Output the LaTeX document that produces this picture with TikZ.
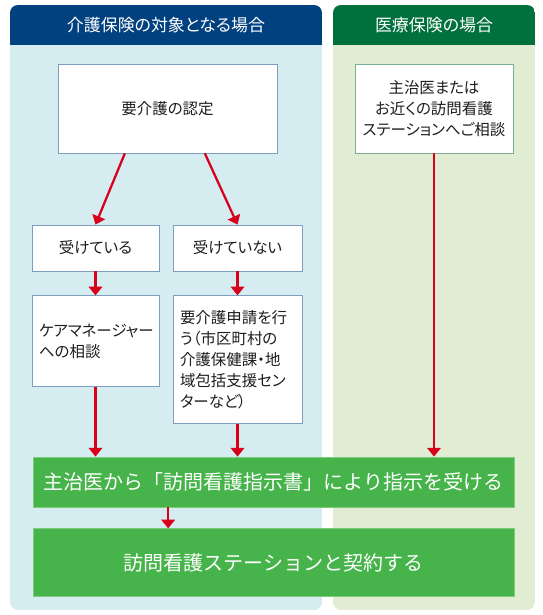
\documentclass[tikz,border=0pt]{standalone}
\usepackage{fontspec}
\setmainfont{Noto Sans CJK JP}[RawFeature=+palt]
\newfontfamily\stepfont{Noto Sans CJK JP}
\usepackage{xcolor}
\usetikzlibrary{arrows.meta,positioning}

\definecolor{kaigoHead}{RGB}{2,65,128}
\definecolor{kaigoBody}{RGB}{213,236,241}
\definecolor{iryoHead}{RGB}{0,112,60}
\definecolor{iryoBody}{RGB}{225,237,210}
\definecolor{boxBlue}{RGB}{126,158,192}
\definecolor{boxGreen}{RGB}{123,175,146}
\definecolor{stepGreen}{RGB}{70,180,74}
\definecolor{stepEdge}{RGB}{125,205,125}
\definecolor{arrowRed}{RGB}{217,0,27}
\definecolor{ink}{RGB}{30,30,30}

\begin{document}
\begin{tikzpicture}[x=0.75pt,y=-0.75pt,
	->,>={Triangle[width=10pt,length=6.5pt]},
	head/.style={text=white,font=\fontsize{12.7pt}{15pt}\selectfont,inner sep=0pt},
	box/.style={draw=boxBlue,fill=white,text=ink,line width=0.6pt,
		font=\fontsize{11.6pt}{15.8pt}\selectfont,align=center},
	leftbox/.style={box,align=left,inner xsep=5.25pt},
	stepbox/.style={draw=stepEdge,fill=stepGreen,text=white,line width=0.6pt,
		font=\stepfont\fontsize{15pt}{18pt}\selectfont,minimum width=360.75pt},
	link/.style={draw=arrowRed,line width=1.7pt}]
	\useasboundingbox (0,0) rectangle (543,615);

	% panels
	\begin{scope}
		\clip[rounded corners=6pt] (10,5) rectangle (322,610);
		\fill[kaigoBody] (10,5) rectangle (322,610);
		\fill[kaigoHead] (10,5) rectangle (322,45);
	\end{scope}
	\begin{scope}
		\clip[rounded corners=6pt] (333,5) rectangle (535,610);
		\fill[iryoBody] (333,5) rectangle (535,610);
		\fill[iryoHead] (333,5) rectangle (535,45);
	\end{scope}
	\node[head] (kaigoTitle) at (166,25) {介護保険の対象となる場合};
	\node[head] (iryoTitle) at (434,25) {医療保険の場合};

	% boxes
	\node[box,minimum width=164.25pt,minimum height=66.75pt] (nintei) at (167.5,108.5) {要介護の認定};
	\node[box,draw=boxGreen,minimum width=118.5pt,minimum height=66.75pt] (iryo) at (434,108.5)
		{主治医または\\お近くの訪問看護\\ステーションへご相談};
	\node[box,minimum width=95.25pt,minimum height=34.5pt] (uke) at (95.5,248) {受けている};
	\node[box,minimum width=96.75pt,minimum height=34.5pt] (ukenai) at (237.5,248) {受けていない};
	\node[leftbox,text width=84.75pt,minimum height=68.25pt] (cm) [below=18pt of uke]
		{ケアマネージャー\\への相談};
	\node[leftbox,text width=86.25pt,minimum height=96pt] (shinsei) [below=18pt of ukenai]
		{要介護申請を行\\う（市区町村の\\介護保健課・地\\域包括支援セン\\ターなど）};
	\node[stepbox,minimum height=37.5pt] (shiji) at (273.5,482)
		{主治医から「訪問看護指示書」により指示を受ける};
	\node[stepbox,minimum height=51pt] (keiyaku) [below=15.75pt of shiji]
		{訪問看護ステーションと契約する};

	% arrows
	\draw[link] ([xshift=-32pt]nintei.south) -- (uke.north);
	\draw[link] ([xshift=28pt]nintei.south) -- (ukenai.north);
	\draw[link] (uke) -- (cm);
	\draw[link] (ukenai) -- (shinsei);
	\draw[link] (cm.south) -- (cm.south |- shiji.north);
	\draw[link] (shinsei.south) -- (shinsei.south |- shiji.north);
	\draw[link] (iryo.south) -- (iryo.south |- shiji.north);
	\draw[link] ([xshift=-79pt]shiji.south) -- ([xshift=-79pt]keiyaku.north);
\end{tikzpicture}
\end{document}
